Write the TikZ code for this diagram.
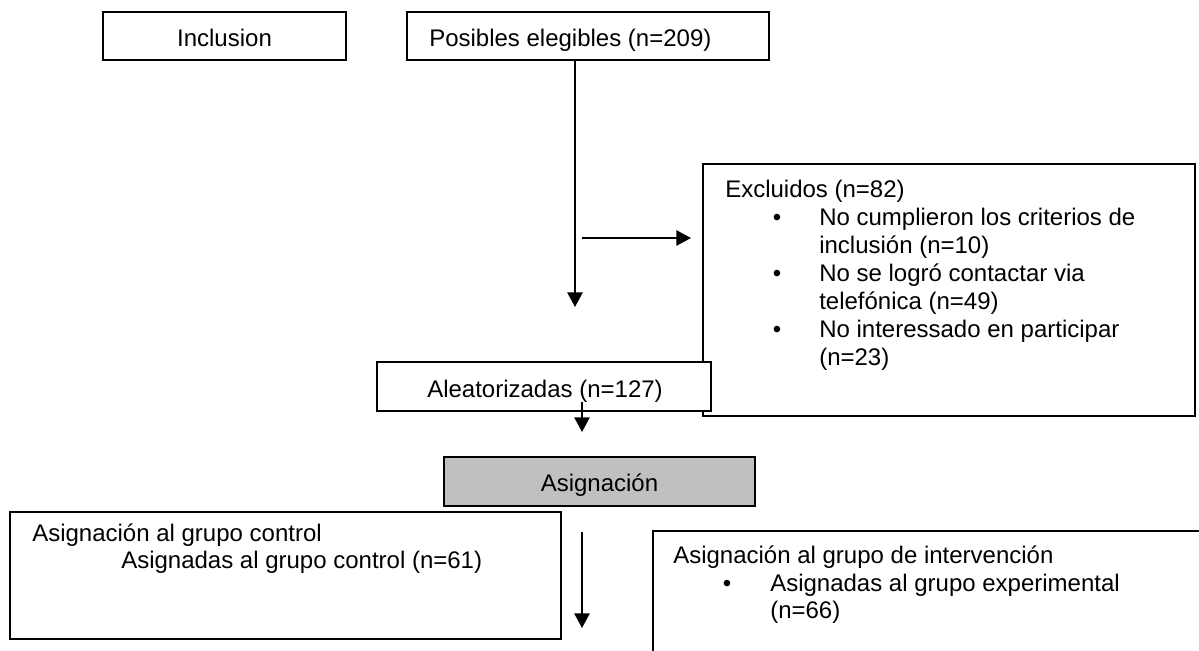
\documentclass[tikz,border=0pt]{standalone}
\usepackage{fontspec}
\setmainfont{Liberation Sans}
\usetikzlibrary{arrows.meta}
\definecolor{boxgray}{RGB}{192,192,192}
\begin{document}
\begin{tikzpicture}[x=0.75pt,y=-0.75pt,
  box/.style={draw=black,line width=1.2pt,fill=white,inner sep=0pt,outer sep=0pt},
  txt/.style={anchor=base west,inner sep=0pt,font=\fontsize{18}{21}\selectfont},
  btxt/.style={anchor=base,inner sep=0pt,font=\fontsize{18}{21}\selectfont},
  ctxt/.style={anchor=base,inner sep=0pt,font=\fontsize{18}{21}\selectfont},
  arr/.style={line width=1.2pt,-{Triangle[length=11pt,width=11.5pt]}}]
\useasboundingbox (0,0) rectangle (1199,650);
\clip (0,0) rectangle (1199,650);
% boxes
\node[box,minimum width=243*0.75pt,minimum height=48*0.75pt] (inc) at (224.5,36) {};
\node[box,minimum width=362*0.75pt,minimum height=48*0.75pt] (pos) at (588,36) {};
\node[box,minimum width=492*0.75pt,minimum height=252*0.75pt] (exc) at (949,290) {};
\node[box,minimum width=334*0.75pt,minimum height=49*0.75pt] (ale) at (544,386.5) {};
\node[box,fill=boxgray,minimum width=311*0.75pt,minimum height=49*0.75pt] (asig) at (599.5,481.5) {};
\node[box,minimum width=551*0.75pt,minimum height=127*0.75pt] (ctrl) at (285.5,575.5) {};
\node[box,minimum width=600*0.75pt,minimum height=180*0.75pt,anchor=north west] (interv) at (653,531) {};
% texts
\node[ctxt] (tinc) at (224.5,46) {Inclusion};
\node[txt] (tpos) at (429,46) {Posibles elegibles (n=209)};
\node[txt] (texc) at (725,197) {Excluidos (n=82)};
\node[btxt] (b1) at (777,225) {\textbullet};
\node[txt] (e1) at (819,225) {No cumplieron los criterios de};
\node[txt] (e1b) at (819,253) {inclusión (n=10)};
\node[btxt] (b2) at (777,281) {\textbullet};
\node[txt] (e2) at (819,281) {No se logró contactar via};
\node[txt] (e2b) at (819,309) {telefónica (n=49)};
\node[btxt] (b3) at (777,337) {\textbullet};
\node[txt] (e3) at (819,337) {No interessado en participar};
\node[txt] (e3b) at (819,365) {(n=23)};
\node[ctxt] (tale) at (545,397) {Aleatorizadas (n=127)};
\node[ctxt] (tasig) at (599.5,491) {Asignación};
\node[txt] (tc1) at (32,541) {Asignación al grupo control};
\node[txt] (tc2) at (121,568) {Asignadas al grupo control (n=61)};
\node[txt] (ti1) at (673,563) {Asignación al grupo de intervención};
\node[btxt] (b4) at (727,591) {\textbullet};
\node[txt] (ti2) at (770,591) {Asignadas al grupo experimental};
\node[txt] (ti3) at (770,618) {(n=66)};
% connectors
\coordinate (v1e) at (575,307);
\draw[arr] (pos.south -| v1e) -- (v1e);
\coordinate (h1s) at (582,238);
\coordinate (h1e) at (691,238);
\draw[arr] (h1s) -- (h1e);
\coordinate (v2s) at (582,402);
\coordinate (v2e) at (582,432);
\draw[arr] (v2s) -- (v2e);
\coordinate (v3s) at (582,532);
\coordinate (v3e) at (582,628);
\draw[arr] (v3s) -- (v3e);
\end{tikzpicture}
\end{document}
